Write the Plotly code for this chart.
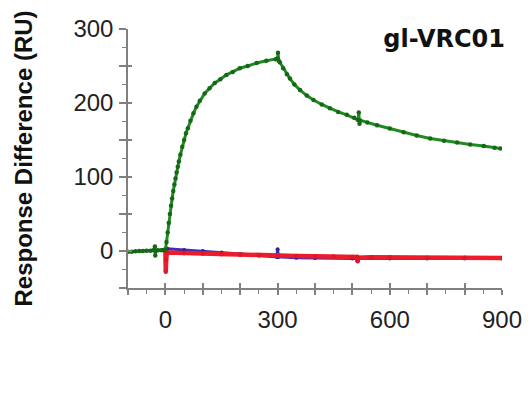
import plotly.graph_objects as go

# Sensorgram: time (s) vs response difference (RU)
green_t = [-100, -90, -80, -70, -60, -50, -40, -32, -28, -27, -26, -20, -10, -5, 0,
           3, 6, 9, 12, 15, 18, 21, 24, 27, 30, 33, 36, 40, 45, 50, 55, 60, 67, 75,
           83, 92, 105, 118, 132, 147, 163, 180, 199, 220, 244, 270, 295, 300, 301,
           303, 306, 315, 325, 333, 345, 360, 378, 396, 418, 440, 462, 485, 505,
           515, 517, 519, 521, 540, 566, 600, 637, 672, 708, 745, 780, 815, 851,
           880, 896]
green_ru = [-1, -1, -0.5, 0, 0, 0.5, 0.5, 1, 6, -6, 0, 1, 1, 1.5, 2,
            12, 25, 38, 50, 61, 71, 81, 90, 98, 106, 114, 121, 130, 141, 150, 159,
            166, 176, 186, 195, 203, 213, 220, 227, 232, 238, 242, 247, 250, 254,
            257, 259, 260, 268, 257, 255, 247, 239, 233, 225, 217.5, 210, 204, 198,
            193, 188, 184, 180, 177, 187, 172, 176.5, 173.5, 170, 165.5, 160.5, 156,
            152, 149, 146.5, 144, 142, 139.5, 138.5]

blue_t = [0, 1, 2, 3, 5, 50, 100, 150, 200, 250, 298, 300, 302, 350, 400, 500,
          600, 700, 800, 900]
blue_ru = [0, -15, -8, 3, 3, 1.5, 0, -2, -4, -6, -8, 2.5, -8, -9, -9.5, -10,
           -10, -10, -10, -10]

red_t = [0, 1, 2, 4, 50, 100, 150, 200, 250, 300, 350, 400, 450, 500, 512, 514,
         516, 550, 600, 700, 800, 900]
red_ru = [0, -28, -12, -2, -2.8, -3.5, -4.3, -5, -5.7, -6.3, -6.8, -7.2, -7.6, -8,
          -8.2, -14, -9, -8.3, -8.5, -9, -9.2, -9.5]

x_major = [-100, 0, 100, 200, 300, 400, 500, 600, 700, 800, 900]
x_labels = ["", "0", "", "", "300", "", "", "600", "", "", "900"]
x_minor = [-50, 50, 150, 250, 350, 450, 550, 650, 750, 850]

y_major = [-50, 0, 50, 100, 150, 200, 250, 300]
y_labels = ["", "0", "", "100", "", "200", "", "300"]
y_minor = [-25, 25, 75, 125, 175, 225, 275]

AXIS = "#808080"
FONT = "Liberation Sans, Arial, sans-serif"

fig = go.Figure()
fig.add_trace(go.Scatter(x=blue_t, y=blue_ru, mode="lines+markers",
                         line=dict(color="#3b2fc0", width=3),
                         marker=dict(color="#3a1f8a", size=4)))
fig.add_trace(go.Scatter(x=red_t, y=red_ru, mode="lines+markers",
                         line=dict(color="#ee1c2a", width=4.5),
                         marker=dict(color="#d81a2a", size=4.5)))
fig.add_trace(go.Scatter(x=green_t, y=green_ru, mode="lines+markers",
                         line=dict(color="#1f8c1f", width=3),
                         marker=dict(color="#186618", size=4.5)))
# empty trace so the overlay axes (inner half of the ticks) get drawn
fig.add_trace(go.Scatter(x=[], y=[], xaxis="x2", yaxis="y2", showlegend=False))

fig.update_layout(
    width=531, height=408,
    margin=dict(l=128, r=29, t=29, b=120, autoexpand=False),
    paper_bgcolor="white", plot_bgcolor="white",
    showlegend=False,
    font=dict(family=FONT, color="#222"),
    title=dict(text="<b>gl-VRC01</b>",
               font=dict(family="DejaVu Sans, sans-serif", size=24, color="#111"),
               x=505 / 531, xanchor="right", xref="container",
               y=1 - 39 / 408, yanchor="middle", yref="container"),
    xaxis=dict(range=[-100, 900], showgrid=False, zeroline=False,
               showline=True, linecolor=AXIS, linewidth=1.5,
               tickmode="array", tickvals=x_major, ticktext=x_labels,
               ticks="outside", ticklen=5, tickwidth=1.5, tickcolor=AXIS,
               tickfont=dict(size=24, color="#222"), ticklabelstandoff=4,
               minor=dict(tickmode="array", tickvals=x_minor, ticks="outside",
                          ticklen=4, tickwidth=1.2, tickcolor=AXIS)),
    yaxis=dict(range=[-50, 300], showgrid=False, zeroline=False,
               showline=True, linecolor=AXIS, linewidth=1.5,
               tickmode="array", tickvals=y_major, ticktext=y_labels,
               ticks="outside", ticklen=7, tickwidth=1.5, tickcolor=AXIS,
               tickfont=dict(size=24, color="#222"), ticklabelstandoff=1,
               minor=dict(tickmode="array", tickvals=y_minor, ticks="outside",
                          ticklen=4, tickwidth=1.2, tickcolor=AXIS),
               title=dict(text="<b>Response Difference (RU)</b>",
                          font=dict(family=FONT, size=24, color="#111"),
                          standoff=34)),
    xaxis2=dict(range=[-100, 900], overlaying="x", anchor="y2", showgrid=False,
                zeroline=False, showline=False, showticklabels=False,
                tickmode="array", tickvals=x_major, ticks="inside", ticklen=5,
                tickwidth=1.5, tickcolor=AXIS),
    yaxis2=dict(range=[-50, 300], overlaying="y", anchor="x2", showgrid=False,
                zeroline=False, showline=False, showticklabels=False,
                tickmode="array", tickvals=y_major, ticks="inside", ticklen=4,
                tickwidth=1.5, tickcolor=AXIS),
)

fig.write_html("out.html")
